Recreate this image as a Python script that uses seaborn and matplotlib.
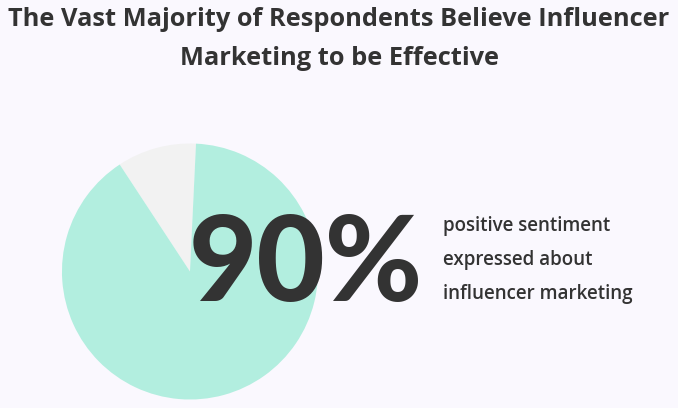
import matplotlib
matplotlib.use("Agg")
import matplotlib.pyplot as plt
import seaborn as sns

# Data
labels = ["Not effective / other", "Positive sentiment"]
values = [10, 90]
colors = ["#f2f2f2", "#b2eedf"]
headline = "90%"
caption_lines = ["positive sentiment", "expressed about", "influencer marketing"]
title = "The Vast Majority of Respondents Believe Influencer\nMarketing to be Effective"

sns.set_theme(style="white")
plt.rcParams['font.family'] = ['Open Sans', 'DejaVu Sans']

bg = "#faf8fe"
txt = "#333333"
fig = plt.figure(figsize=(6.78, 4.08), dpi=100, facecolor=bg)

ax = fig.add_axes([0.0914, 0.0208, 0.3776, 0.6275])
ax.set_facecolor(bg)
ax.pie(values, colors=colors, startangle=87.3, counterclock=True,
       radius=1, wedgeprops=dict(linewidth=0))
ax.set_xlim(-1, 1)
ax.set_ylim(-1, 1)
ax.set_aspect("equal")
ax.axis("off")

fig.text(0.5, 0.982, title, ha="center", va="top", fontsize=18.3,
         fontweight="bold", color=txt, linespacing=1.72)

fig.text(189 / 678, 1 - 267 / 408, headline, ha="left", va="center",
         fontsize=85, fontweight="black", color=txt,
         family=['Lato', 'DejaVu Sans'])

fig.text(443 / 678, 1 - 260 / 408, "\n".join(caption_lines), ha="left",
         va="center", fontsize=13.5, fontweight="semibold", color=txt,
         linespacing=1.95)

fig.savefig("out.png", dpi=100, facecolor=bg)
